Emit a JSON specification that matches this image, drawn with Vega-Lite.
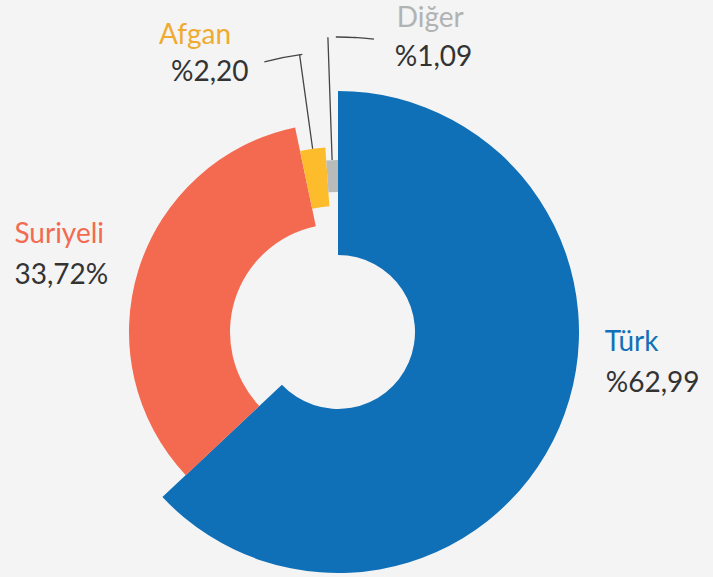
{
  "$schema": "https://vega.github.io/schema/vega-lite/v6.json",
  "width": 676,
  "height": 490,
  "autosize": {"type": "none"},
  "padding": {"left": 0, "top": 87, "right": 37, "bottom": 0},
  "background": "#f4f4f4",
  "config": {"view": {"stroke": null}, "font": "Lato"},
  "data": {
    "values": [
      {"group": "Türk", "value": 62.99, "pct": "%62,99"},
      {"group": "Suriyeli", "value": 33.72, "pct": "33,72%"},
      {"group": "Afgan", "value": 2.20, "pct": "%2,20"},
      {"group": "Diğer", "value": 1.09, "pct": "%1,09"}
    ]
  },
  "encoding": {
    "theta": {"field": "value", "type": "quantitative", "stack": true, "scale": {"domain": [0, 100]}},
    "order": {"field": "value", "sort": "descending"}
  },
  "layer": [
    {
      "mark": {"type": "arc"},
      "encoding": {
        "radius": {"field": "value", "type": "quantitative", "scale": {"type": "linear", "zero": false, "domain": [1.09, 2.2, 33.72, 62.99], "range": [172, 185, 209, 241]}},
        "radius2": {"value": 77},
        "fill": {"condition": {"test": "datum.group === 'Türk'", "value": "#0f6fb7"}, "value": "transparent"}
      }
    },
    {
      "mark": {"type": "arc"},
      "encoding": {
        "radius": {"field": "value", "type": "quantitative", "scale": {"type": "linear", "zero": false, "domain": [1.09, 2.2, 33.72, 62.99], "range": [172, 185, 209, 241]}},
        "radius2": {"value": 108},
        "fill": {"condition": {"test": "datum.group === 'Suriyeli'", "value": "#f36a50"}, "value": "transparent"}
      }
    },
    {
      "mark": {"type": "arc"},
      "encoding": {
        "radius": {"field": "value", "type": "quantitative", "scale": {"type": "linear", "zero": false, "domain": [1.09, 2.2, 33.72, 62.99], "range": [172, 185, 209, 241]}},
        "radius2": {"value": 126},
        "fill": {"condition": {"test": "datum.group === 'Afgan'", "value": "#fdbc2b"}, "value": "transparent"}
      }
    },
    {
      "mark": {"type": "arc"},
      "encoding": {
        "radius": {"field": "value", "type": "quantitative", "scale": {"type": "linear", "zero": false, "domain": [1.09, 2.2, 33.72, 62.99], "range": [172, 185, 209, 241]}},
        "radius2": {"value": 140},
        "fill": {"condition": {"test": "datum.group === 'Diğer'", "value": "#b9bbbb"}, "value": "transparent"}
      }
    },
    {
      "mark": {"type": "arc", "padAngle": 0.5, "fill": "transparent", "strokeWidth": 1.3},
      "encoding": {
        "radius": {"field": "value", "type": "quantitative", "scale": {"type": "linear", "zero": false, "domain": [1.09, 2.2, 33.72, 62.99], "range": [172, 185, 209, 241]}},
        "radius2": {"value": 280},
        "stroke": {"condition": {"test": "datum.group === 'Afgan'", "value": "#444444"}, "value": "transparent"}
      }
    },
    {
      "mark": {"type": "arc", "padAngle": 0.5, "fill": "transparent", "strokeWidth": 1.3},
      "encoding": {
        "radius": {"field": "value", "type": "quantitative", "scale": {"type": "linear", "zero": false, "domain": [1.09, 2.2, 33.72, 62.99], "range": [172, 185, 209, 241]}},
        "radius2": {"value": 295},
        "stroke": {"condition": {"test": "datum.group === 'Diğer'", "value": "#444444"}, "value": "transparent"}
      }
    },
    {
      "mark": {"type": "arc", "thetaOffset": 0.0611, "theta2Offset": 0.0611, "fill": "transparent", "strokeWidth": 1.3},
      "encoding": {
        "radius": {"value": 295},
        "radius2": {"value": 295},
        "stroke": {"condition": {"test": "datum.group === 'Diğer'", "value": "#444444"}, "value": "transparent"}
      }
    },
    {
      "mark": {"type": "arc", "thetaOffset": 0.1222, "theta2Offset": 0.1222, "fill": "transparent", "strokeWidth": 1.3},
      "encoding": {
        "radius": {"value": 295},
        "radius2": {"value": 295},
        "stroke": {"condition": {"test": "datum.group === 'Diğer'", "value": "#444444"}, "value": "transparent"}
      }
    },
    {
      "mark": {"type": "arc", "thetaOffset": -0.0593, "theta2Offset": -0.0593, "fill": "transparent", "strokeWidth": 1.3},
      "encoding": {
        "radius": {"value": 280},
        "radius2": {"value": 280},
        "stroke": {"condition": {"test": "datum.group === 'Afgan'", "value": "#444444"}, "value": "transparent"}
      }
    },
    {
      "mark": {"type": "text", "align": "left", "baseline": "alphabetic", "fontSize": 28, "dx": 19, "dy": -88, "color": "#1170b8"},
      "encoding": {"radius": {"value": 270}, "text": {"condition": {"test": "datum.group === 'Türk'", "field": "group"}, "value": ""}}
    },
    {
      "mark": {"type": "text", "align": "left", "baseline": "alphabetic", "fontSize": 28, "dx": 20, "dy": -47, "color": "#333333"},
      "encoding": {"radius": {"value": 270}, "text": {"condition": {"test": "datum.group === 'Türk'", "field": "pct"}, "value": ""}}
    },
    {
      "mark": {"type": "text", "align": "left", "baseline": "alphabetic", "fontSize": 28, "dx": -66, "dy": -8, "color": "#f26b50"},
      "encoding": {"radius": {"value": 270}, "text": {"condition": {"test": "datum.group === 'Suriyeli'", "field": "group"}, "value": ""}}
    },
    {
      "mark": {"type": "text", "align": "left", "baseline": "alphabetic", "fontSize": 28, "dx": -66, "dy": 33, "color": "#333333"},
      "encoding": {"radius": {"value": 270}, "text": {"condition": {"test": "datum.group === 'Suriyeli'", "field": "pct"}, "value": ""}}
    },
    {
      "mark": {"type": "text", "align": "left", "baseline": "alphabetic", "fontSize": 28, "dx": -142, "dy": -21, "color": "#eeab30"},
      "encoding": {"radius": {"value": 270}, "text": {"condition": {"test": "datum.group === 'Afgan'", "field": "group"}, "value": ""}}
    },
    {
      "mark": {"type": "text", "align": "left", "baseline": "alphabetic", "fontSize": 28, "dx": -130, "dy": 16, "color": "#333333"},
      "encoding": {"radius": {"value": 270}, "text": {"condition": {"test": "datum.group === 'Afgan'", "field": "pct"}, "value": ""}}
    },
    {
      "mark": {"type": "text", "align": "left", "baseline": "alphabetic", "fontSize": 28, "dx": 68, "dy": -35, "color": "#b1b3b3"},
      "encoding": {"radius": {"value": 270}, "text": {"condition": {"test": "datum.group === 'Diğer'", "field": "group"}, "value": ""}}
    },
    {
      "mark": {"type": "text", "align": "left", "baseline": "alphabetic", "fontSize": 28, "dx": 66, "dy": 4, "color": "#333333"},
      "encoding": {"radius": {"value": 270}, "text": {"condition": {"test": "datum.group === 'Diğer'", "field": "pct"}, "value": ""}}
    }
  ]
}
